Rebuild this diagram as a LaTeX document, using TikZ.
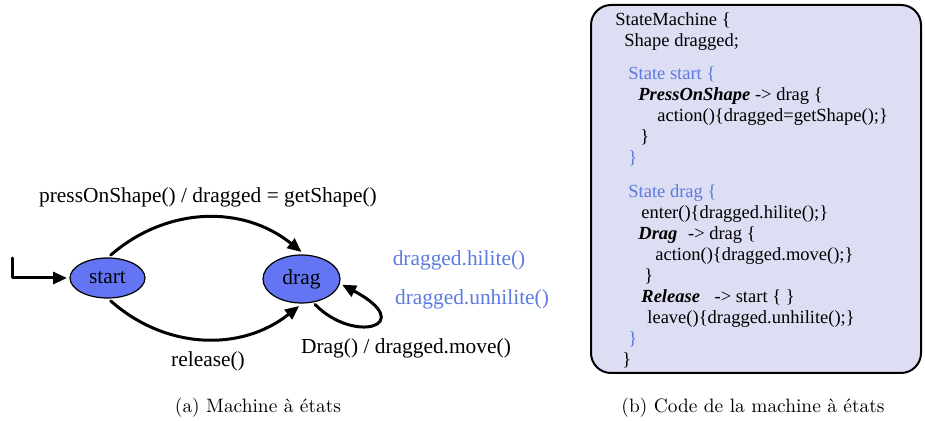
\documentclass[tikz,border=0pt]{standalone}
\usepackage{fontspec}
\usepackage{xcolor}
\usepackage{tikz}
\usetikzlibrary{arrows.meta,positioning,shapes.geometric}
\newfontfamily\timesfont{Liberation Serif}
\definecolor{stateblue}{HTML}{6375F2}
\definecolor{actionblue}{HTML}{5C7BE0}
\definecolor{codefill}{HTML}{DDDDF3}
\tikzset{
    every picture/.style={line cap=round,line join=round},
    statenode/.style={draw=black,ellipse,fill=stateblue,line width=0.6pt,
      inner sep=0pt,outer sep=1.5pt,font=\timesfont\fontsize{10.7}{12}\selectfont},
    transarrow/.style={-{Triangle[length=7pt,width=6pt]},draw=black,
      line width=1.5pt},
    translabel/.style={inner sep=0pt,anchor=base,
      font=\timesfont\fontsize{10.7}{12}\selectfont},
    actionlabel/.style={translabel,text=actionblue},
    codeline/.style={inner sep=0pt,anchor=base west,
      font=\timesfont\fontsize{9.25}{10.5}\selectfont},
    codestate/.style={codeline,text=actionblue},
    caption/.style={inner sep=0pt,anchor=base,font=\fontsize{9.7}{12}\selectfont}
}
\newcommand{\evname}[1]{{\bfseries\itshape #1}}

\begin{document}
\begin{tikzpicture}[x=0.5pt,y=0.5pt]
  \useasboundingbox (0,0) rectangle (925,-421);
  % (a) the state machine
  \node[statenode,minimum width=37.5pt,minimum height=20pt] (start) at (107.5,-278) {start};
  \node[statenode,minimum width=38.5pt,minimum height=24pt] (drag) at (301.5,-279) {drag};
  \coordinate (init) at (12,-258);
  \draw[transarrow] (init) |- (start.west);
  \draw[transarrow] (start.82) to[bend left=40] (drag.north);
  \draw[transarrow] (start.-82) to[bend right=40] (drag.-95);
  \draw[transarrow] (drag.-62) .. controls (355,-345) and (418,-325) .. (drag.-8);
  \node[translabel] (press) at (208,-203) {pressOnShape() / dragged = getShape()};
  \node[translabel] (release) at (208,-367) {release()};
  \node[translabel] (move) at (406,-354) {Drag() / dragged.move()};
  \node[actionlabel] (hilite) at (459,-266) {dragged.hilite()};
  \node[actionlabel] (unhilite) at (472,-305) {dragged.unhilite()};
  \node[caption] (capa) at (258,-413) {(a) Machine à états};
  % (b) the code of the machine
  \node[draw=black,fill=codefill,line width=1pt,rounded corners=10pt,
    minimum width=165pt,minimum height=184pt] (codebox) at (756,-189) {};
  \node[codeline] (c1) at (615,-26) {StateMachine \{};
  \node[codeline] (c2) at (624,-47) {Shape dragged;};
  \node[codestate] (c3) at (628,-80) {State start \{};
  \node[codeline] (c4) at (638,-101) {\evname{PressOnShape} -> drag \{};
  \node[codeline] (c5) at (657,-122) {action()\{dragged=getShape();\}};
  \node[codeline] (c6) at (640,-143) {\}};
  \node[codestate] (c7) at (628,-164) {\}};
  \node[codestate] (c8) at (628,-198) {State drag \{};
  \node[codeline] (c9) at (641,-219) {enter()\{dragged.hilite();\}};
  \node[codeline] (c10) at (638,-240) {\evname{Drag}\hspace{3pt} -> drag \{};
  \node[codeline] (c11) at (655,-261) {action()\{dragged.move();\}};
  \node[codeline] (c12) at (644,-282) {\}};
  \node[codeline] (c13) at (641,-303) {\evname{Release}\hspace{5pt} -> start \{ \}};
  \node[codeline] (c14) at (647,-324) {leave()\{dragged.unhilite();\}};
  \node[codestate] (c15) at (628,-345) {\}};
  \node[codeline] (c16) at (622,-366) {\}};
  \node[caption] (capb) at (753,-413) {(b) Code de la machine à états};
\end{tikzpicture}
\end{document}
